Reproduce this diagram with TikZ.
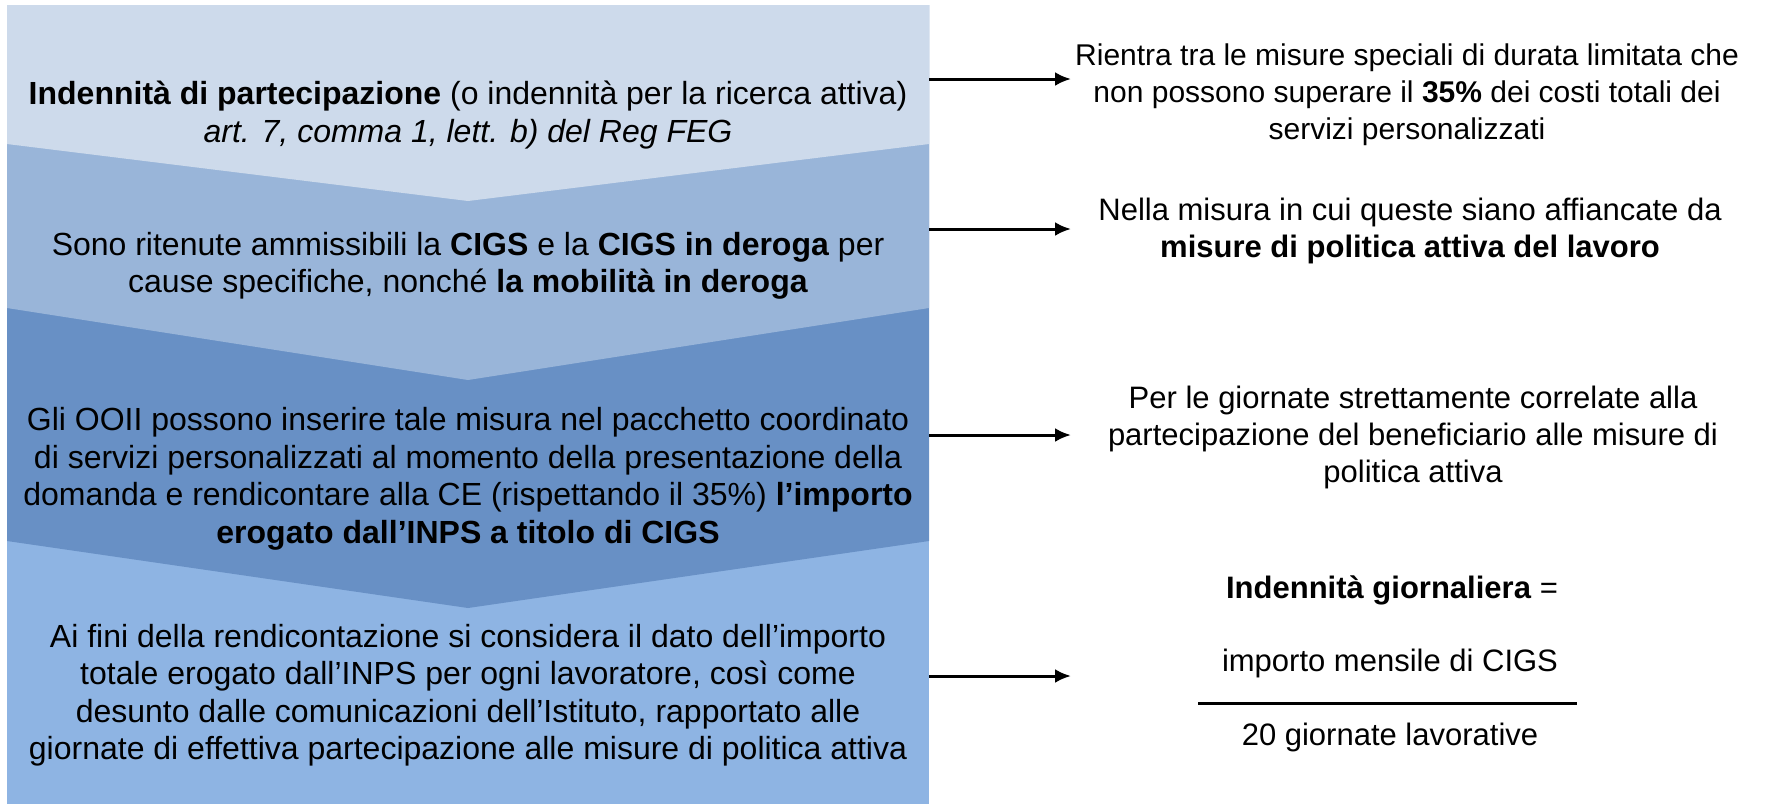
\documentclass[tikz,border=0pt]{standalone}
\usepackage{fontspec}
\setmainfont{Liberation Sans}
\usetikzlibrary{arrows.meta}

\definecolor{bandA}{RGB}{205,218,235}
\definecolor{bandB}{RGB}{153,181,217}
\definecolor{bandC}{RGB}{104,144,197}
\definecolor{bandD}{RGB}{142,180,227}

\tikzstyle{arrow} = [line width=1.5pt,-{Latex[length=8pt,width=7pt]}]
\tikzstyle{blocktext} = [align=center,font=\fontsize{16}{18.75}\selectfont,inner sep=0pt]
\tikzstyle{sidetext} = [align=center,font=\fontsize{15.5}{18.5}\selectfont,inner sep=0pt]

\begin{document}
\begin{tikzpicture}[x=0.5pt,y=-0.5pt]
\useasboundingbox (0,0) rectangle (1768,805);

% Chevron bands
\fill [bandD] (7,5) rectangle (929,804);
\fill [bandC] (7,5) -- (929,5) -- (929,541) -- (468,608) -- (7,541) -- cycle;
\fill [bandB] (7,5) -- (929,5) -- (929,308) -- (468,380) -- (7,308) -- cycle;
\fill [bandA] (7,5) -- (929,5) -- (929,144) -- (468,201) -- (7,144) -- cycle;

% Left texts
\node [blocktext] (indennita) at (468,115) {\textbf{Indennità di partecipazione} (o indennità per la ricerca attiva)\\
\textit{art. 7, comma 1, lett. b) del Reg FEG}};
\node [blocktext] (cigs) at (468,266) {Sono ritenute ammissibili la \textbf{CIGS} e la \textbf{CIGS in deroga} per\\
cause specifiche, nonché \textbf{la mobilità in deroga}};
\node [blocktext] (ooii) at (468,479) {Gli OOII possono inserire tale misura nel pacchetto coordinato\\
di servizi personalizzati al momento della presentazione della\\
domanda e rendicontare alla CE (rispettando il 35\%) \textbf{l’importo}\\
\textbf{erogato dall’INPS a titolo di CIGS}};
\node [blocktext] (rendic) at (468,695) {Ai fini della rendicontazione si considera il dato dell’importo\\
totale erogato dall’INPS per ogni lavoratore, così come\\
desunto dalle comunicazioni dell’Istituto, rapportato alle\\
giornate di effettiva partecipazione alle misure di politica attiva};

% Right texts
\node [sidetext,font=\fontsize{15}{18.5}\selectfont] (limite) at (1407,95) {Rientra tra le misure speciali di durata limitata che\\
non possono superare il \textbf{35\%} dei costi totali dei\\
servizi personalizzati};
\node [sidetext] (misure) at (1410,231) {Nella misura in cui queste siano affiancate da\\
\textbf{misure di politica attiva del lavoro}};
\node [sidetext] (giornate) at (1413,437) {Per le giornate strettamente correlate alla\\
partecipazione del beneficiario alle misure di\\
politica attiva};
\node [sidetext] (formula) at (1392,590) {\textbf{Indennità giornaliera} =};
\node [sidetext] (numer) at (1390,663) {importo mensile di CIGS};
\node [sidetext] (denom) at (1390,737) {20 giornate lavorative};

% fraction bar
\coordinate (barL) at (1198,703);
\coordinate (barR) at (1577,703);
\draw [line width=1.5pt] (barL) -- (barR);

% Arrows
\coordinate (s1) at (929,79);   \coordinate (e1) at (1071,79);
\coordinate (s2) at (929,229);  \coordinate (e2) at (1071,229);
\coordinate (s3) at (929,435);  \coordinate (e3) at (1071,435);
\coordinate (s4) at (929,676);  \coordinate (e4) at (1071,676);
\draw [arrow] (s1) -- (e1);
\draw [arrow] (s2) -- (e2);
\draw [arrow] (s3) -- (e3);
\draw [arrow] (s4) -- (e4);

\end{tikzpicture}
\end{document}
